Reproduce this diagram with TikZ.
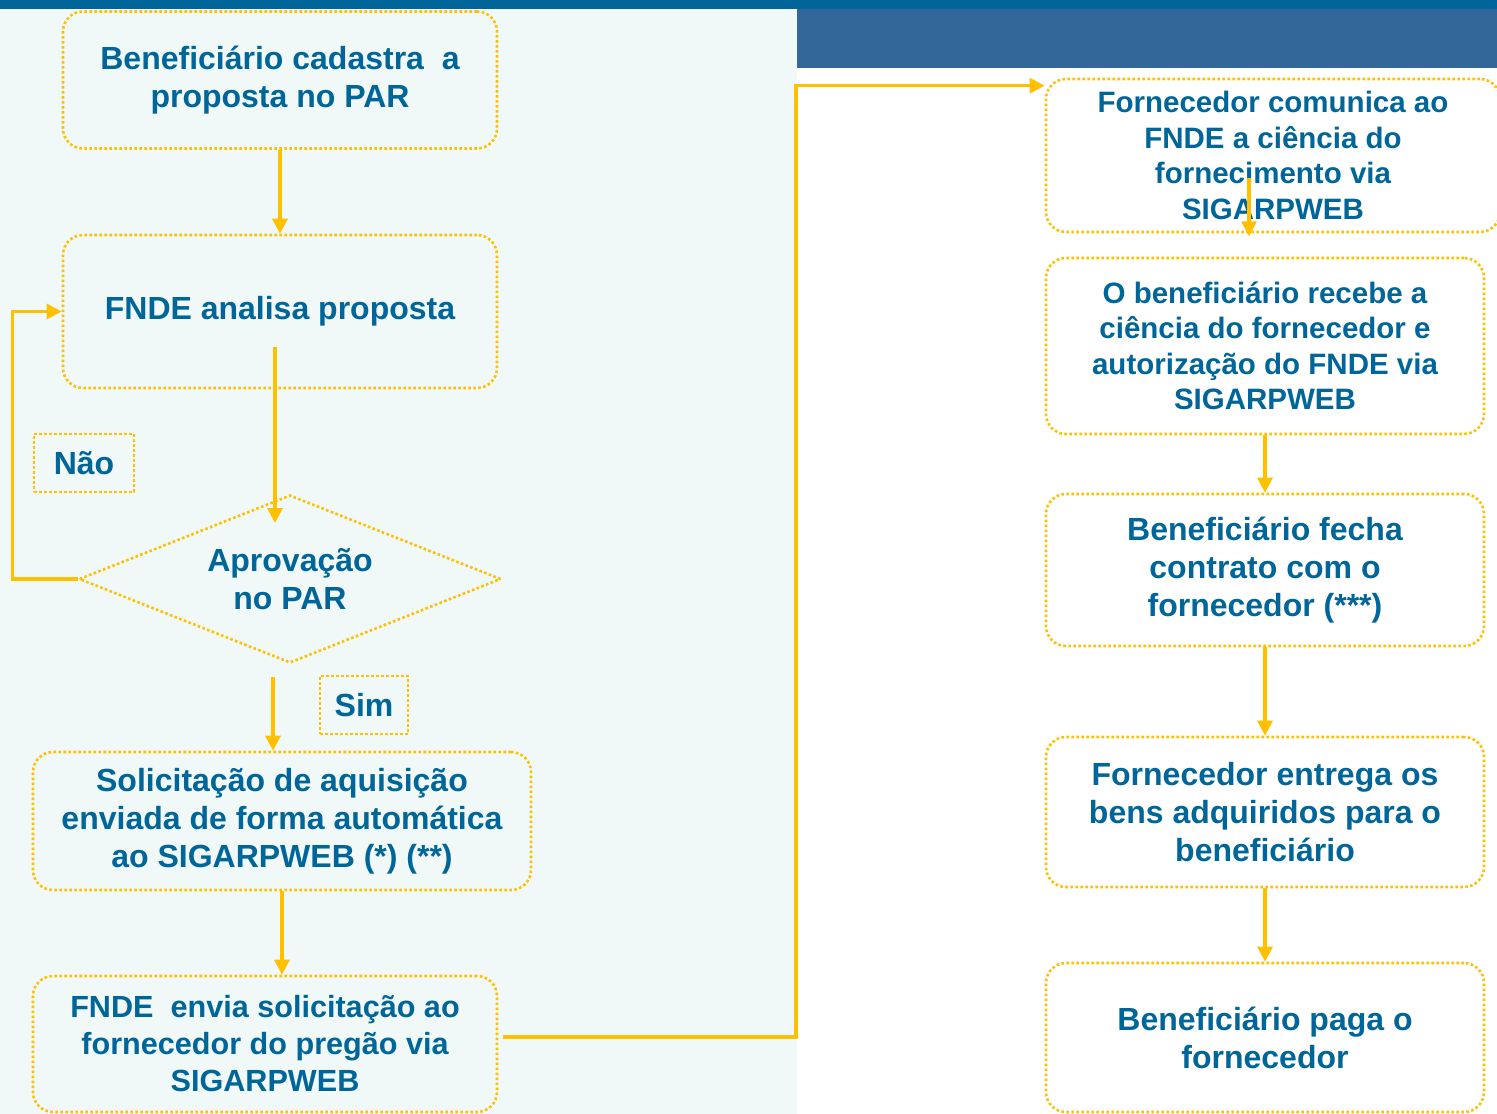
\documentclass[tikz,border=0pt]{standalone}
\usepackage{fontspec}
\setmainfont{Liberation Sans}
\usepackage{tikz}
\usetikzlibrary{shapes.geometric,arrows.meta}

\definecolor{txtblue}{HTML}{006699}
\definecolor{barblue}{HTML}{006699}
\definecolor{panelblue}{HTML}{336699}
\definecolor{bgmint}{HTML}{F0F9F8}
\definecolor{linegold}{HTML}{FFC000}

\begin{document}
\begin{tikzpicture}
	[x=1pt,y=-1pt,
	box/.style={draw=linegold,line width=2.6pt,dash pattern=on 2.6pt off 2.4pt,
		rounded corners=20pt,align=center,text=txtblue,inner sep=0pt,
		font=\bfseries\fontsize{32}{38}\selectfont},
	smallbox/.style={box,font=\bfseries\fontsize{29.5}{35.5}\selectfont},
	decision/.style={box,diamond,rounded corners=0pt,aspect=2.5},
	tag/.style={box,rounded corners=0pt},
	flow/.style={draw=linegold,line width=3.2pt,-{Triangle[width=15pt,length=15pt]}}]
	% background
	\useasboundingbox (0,0) rectangle (1497,1114);
	\fill[bgmint] (0,0) rectangle (797,1114);
	\fill[barblue] (0,0) rectangle (1497,9);
	\fill[panelblue] (797,9) rectangle (1497,68);
	
	% left column
	\node[box,minimum width=434pt,minimum height=137pt] (b1) at (280,80) {Beneficiário cadastra~ a\\proposta no PAR};
	\node[box,minimum width=434pt,minimum height=153pt] (b2) at (280,311.5) {FNDE analisa proposta};
	\node[decision,minimum width=422pt,minimum height=168pt] (dec) at (290,579) {Aprovação\\no PAR};
	\node[tag,minimum width=100pt,minimum height=58pt] (nao) at (84,463) {Não};
	\node[tag,minimum width=88pt,minimum height=58pt] (sim) at (364,705) {Sim};
	\node[box,minimum width=498pt,minimum height=138pt] (b4) at (282,821) {Solicitação de aquisição\\enviada de forma automática\\ao SIGARPWEB (*) (**)};
	\node[box,minimum width=464pt,minimum height=136pt,font=\bfseries\fontsize{30.6}{37}\selectfont] (b5) at (265,1044) {FNDE~ envia solicitação ao\\fornecedor do pregão via\\SIGARPWEB};
	
	% right column
	\node[smallbox,minimum width=454pt,minimum height=153pt] (r1) at (1273,155.5) {Fornecedor comunica ao\\FNDE a ciência do\\fornecimento via\\SIGARPWEB};
	\node[smallbox,minimum width=438pt,minimum height=176pt] (r2) at (1265,346) {O beneficiário recebe a\\ciência do fornecedor e\\autorização do FNDE via\\SIGARPWEB};
	\node[box,minimum width=438pt,minimum height=152pt] (r3) at (1265,570) {Beneficiário fecha\\contrato com o\\fornecedor (***)};
	\node[box,minimum width=438pt,minimum height=150pt] (r4) at (1265,812) {Fornecedor entrega os\\bens adquiridos para o\\beneficiário};
	\node[box,minimum width=438pt,minimum height=149pt] (r5) at (1265,1037.5) {Beneficiário paga o\\fornecedor};
	
	\coordinate (bend) at (796,560);
	
	% connectors
	\draw[flow] (b1.south) -- (b2.north);
	\draw[flow] ([xshift=-5pt,yshift=-35pt]b2.center) -- ([xshift=-15pt,yshift=56pt]dec.center);
	\draw[flow] (dec.west) -- ++(-65,0) |- (b2.west);
	\draw[flow] ([xshift=-17pt,yshift=-13pt]dec.south) -- ([xshift=-9pt]b4.north);
	\draw[flow] (b4.south) -- (b4.south |- b5.north);
	\draw[flow] ([xshift=5pt,yshift=7pt]b5.east) -| (bend) |- ([yshift=-8pt]r1.north west);
	\draw[flow] ([xshift=-24pt,yshift=-22pt]r1.center) -- ([xshift=-24pt,yshift=-3pt]r1.south);
	\foreach \from/\to in {r2/r3,r3/r4,r4/r5}
	\draw[flow] (\from) -- (\to);
\end{tikzpicture}
\end{document}
